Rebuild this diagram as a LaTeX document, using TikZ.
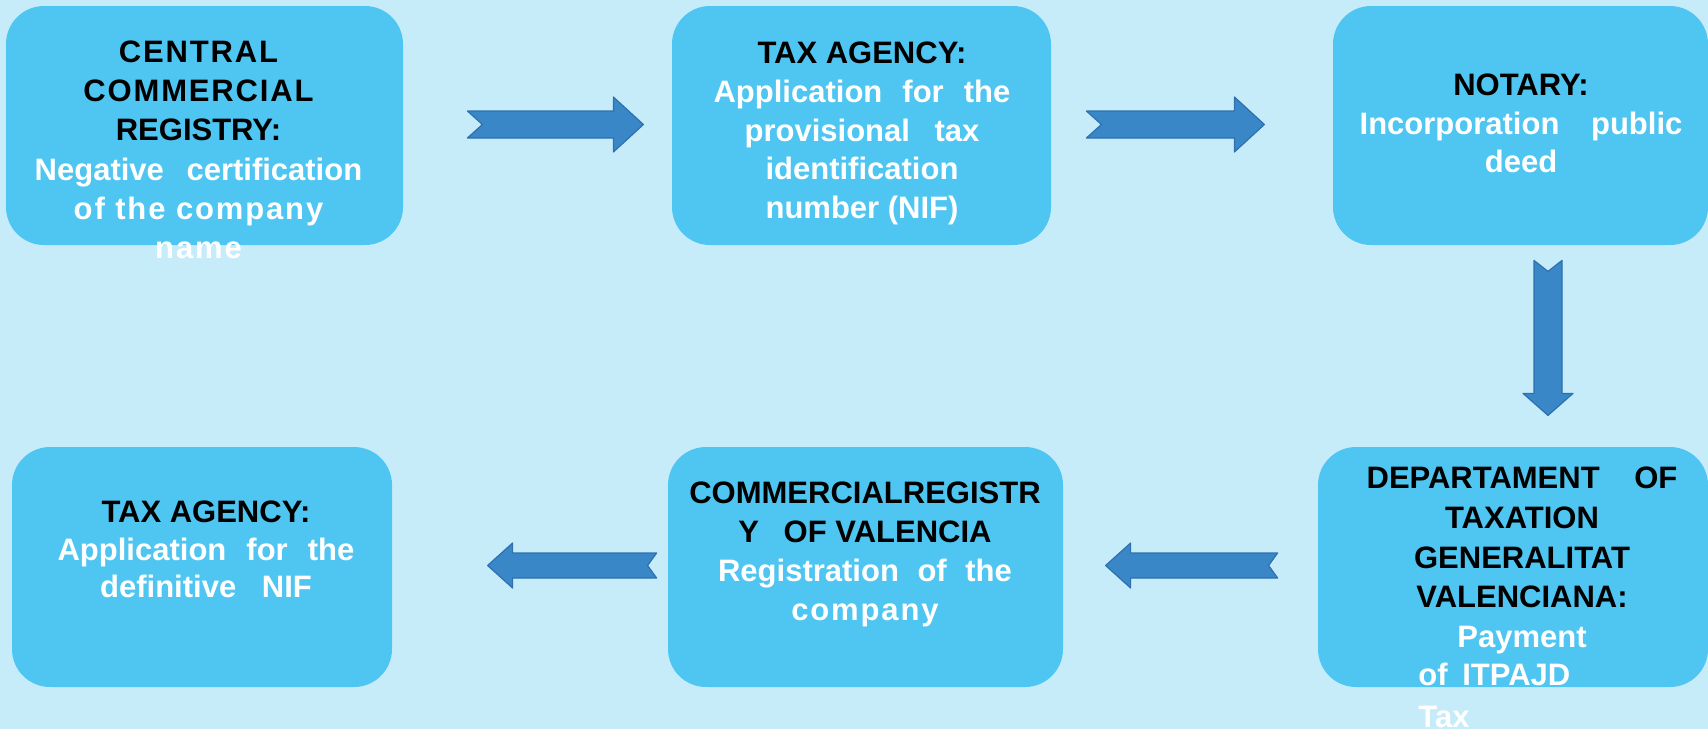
\documentclass[tikz,border=0pt]{standalone}
\usepackage{fontspec}
\setmainfont{Liberation Sans}
\usetikzlibrary{calc}
\definecolor{bgcol}{RGB}{198,236,250}
\definecolor{boxcol}{RGB}{79,198,241}
\definecolor{arrowcol}{RGB}{57,135,199}
\definecolor{arrowedge}{RGB}{47,112,176}
% spaced-out letters and white body text
\newcommand\lsp[1]{{\addfontfeature{LetterSpace=6}#1}}
\newcommand\wt[1]{\textcolor{white}{#1}}

\begin{document}
\begin{tikzpicture}[x=0.5pt,y=-0.5pt,
  stepbox/.style={fill=boxcol, rounded corners=19pt, inner sep=0pt, minimum height=119.5pt},
  txt/.style={align=center, inner sep=0pt, text=black},
  lead/.style={font={\fontsize{15.5pt}{#1}\selectfont\bfseries}},
  % block arrow along +x: length, shaft half-width, head half-width, head length, tail notch
  pics/blockarrow/.style n args={5}{code={
    \filldraw[fill=arrowcol, draw=arrowedge, line width=0.6pt, line join=round]
      (0,-#2) -- ({#1-#4},-#2) -- ({#1-#4},-#3) -- (#1,0) -- ({#1-#4},#3)
      -- ({#1-#4},#2) -- (0,#2) -- (#5,0) -- cycle;
  }}]

\useasboundingbox (0,0) rectangle (1708,729);
\fill[bgcol] (0,0) rectangle (1708,729);

% process boxes
\node[stepbox, minimum width=198.5pt] (b1) at (204.5,125.5) {};
\node[stepbox, minimum width=189.5pt] (b2) at (861.5,125.5) {};
\node[stepbox, minimum width=187.5pt] (b3) at (1520.5,125.5) {};
\node[stepbox, minimum width=195pt, minimum height=120pt] (b4) at (1513,567) {};
\node[stepbox, minimum width=197.5pt, minimum height=120pt] (b5) at (865.5,567) {};
\node[stepbox, minimum width=190pt, minimum height=120pt] (b6) at (202,567) {};

% box texts
\node[txt, lead=19.6pt, anchor=north] (t1) at (198.5,40.5)
  {\lsp{CENTRAL}\\ \lsp{COMMERCIAL}\\ REGISTRY:\\
   \wt{Negative\hspace{7pt} certification}\\ \wt{\lsp{of the company}}\\ \wt{\lsp{name}}};
\node[txt, lead=19.4pt, anchor=north] (t2) at (862,41.5)
  {TAX AGENCY:\\ \wt{Application\hspace{5.75pt} for\hspace{5.75pt} the}\\
   \wt{provisional\hspace{8pt} tax}\\ \wt{identification}\\ \wt{number (NIF)}};
\node[txt, lead=19.25pt, anchor=north] (t3) at (1521,73.5)
  {NOTARY:\\ \wt{Incorporation\hspace{11.5pt} public}\\ \wt{deed}};
\node[txt, lead=19.9pt, anchor=north] (t4) at (1522,466.5)
  {DEPARTAMENT\hspace{13pt} OF\\ TAXATION\\ GENERALITAT\\ VALENCIANA:\\ \wt{Payment}};
\node[txt, lead=21pt, align=left, anchor=north west] (t4b) at (1418,662.5)
  {\wt{of\hspace{3pt} ITPAJD}\\ \wt{Tax}};
\node[txt, lead=19.5pt, anchor=north] (t5) at (865,481.5)
  {COMMERCIALREGISTR\\ Y\hspace{8pt} OF VALENCIA\\
   \wt{Registration\hspace{5pt} of\hspace{5pt} the}\\ \wt{\lsp{company}}};
\node[txt, lead=18.75pt, anchor=north] (t6) at (206,500.5)
  {TAX AGENCY:\\ \wt{Application\hspace{5.75pt} for\hspace{5.75pt} the}\\
   \wt{definitive\hspace{8.5pt} NIF}};

% flow arrows
\pic at ($(b1.east)+(64,-1)$) {blockarrow={176}{13.5}{27.5}{30}{15}};
\pic at ($(b2.east)+(35,-1)$) {blockarrow={178}{13.5}{27.5}{30}{15}};
\pic[rotate=-90] at ($(b3.south)+(27.5,15)$) {blockarrow={155}{14}{25}{22}{11}};
\pic[rotate=180] at ($(b4.west)+(-40,-1.5)$) {blockarrow={172}{12.5}{22.5}{25}{9}};
\pic[rotate=180] at ($(b5.west)+(-11,-1.5)$) {blockarrow={169}{12.5}{22.5}{25}{9}};
\end{tikzpicture}
\end{document}
